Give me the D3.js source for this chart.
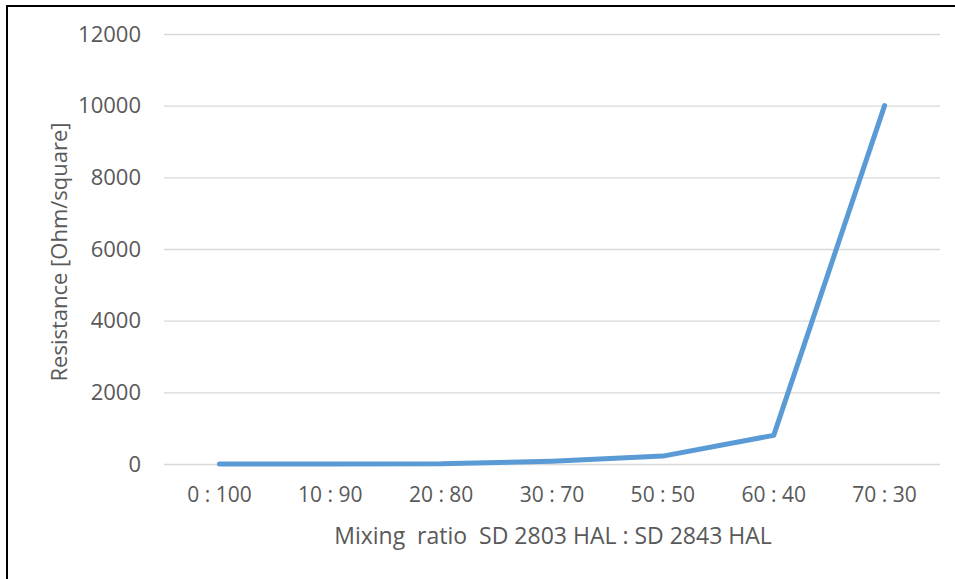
<!DOCTYPE html>
<html><head><meta charset="utf-8">
<script src="https://cdn.jsdelivr.net/npm/d3@7"></script>
<style>body{margin:0;background:#fff;}svg{display:block;}text{font-family:"Open Sans",sans-serif;fill:#595959;}</style>
</head><body>
<svg id="c" width="955" height="579"></svg>
<script>
const categories = ["0 : 100","10 : 90","20 : 80","30 : 70","50 : 50","60 : 40","70 : 30"];
const resistance = [0, 0, 5, 80, 220, 800, 10000];
const yTicks = [0, 2000, 4000, 6000, 8000, 10000, 12000];
const xTitle = "Mixing  ratio  SD 2803 HAL : SD 2843 HAL";
const yTitle = "Resistance [Ohm/square]";

(function(){
const svg = d3.select("#c");
svg.append("rect").attr("x",7).attr("y",6).attr("width",1000).attr("height",700)
  .attr("fill","none").attr("stroke","#000").attr("stroke-width",2);

const pL=164, pR=940, pT=34, pB=464;
const x = d3.scaleBand().domain(categories).range([pL,pR]);
const y = d3.scaleLinear().domain([0,12000]).range([pB,pT]);

const yAxis = svg.append("g").attr("transform",`translate(${pL},0)`)
  .call(d3.axisLeft(y).tickValues(yTicks).tickSize(-(pR-pL)).tickPadding(23).tickFormat(d3.format("d")));
yAxis.select(".domain").remove();
yAxis.selectAll("line").attr("stroke","#d9d9d9").attr("stroke-width",1.3);
yAxis.selectAll("text").style("font-size","22px").style("fill","#595959").style("font-family","'Open Sans',sans-serif");

const xAxis = svg.append("g").attr("transform",`translate(0,${pB})`)
  .call(d3.axisBottom(x).tickSize(0).tickPadding(23));
xAxis.select(".domain").remove();
xAxis.selectAll("text").style("font-size","21px").style("fill","#595959").style("font-family","'Open Sans',sans-serif");

const line = d3.line().x((d,i)=>x(categories[i])+x.bandwidth()/2).y(d=>y(d));
svg.append("path").datum(resistance).attr("d",line).attr("fill","none")
  .attr("stroke","#5b9bd5").attr("stroke-width",5).attr("stroke-linejoin","round").attr("stroke-linecap","round");

svg.append("text").attr("x",553).attr("y",544).attr("text-anchor","middle")
  .style("font-size","23px").style("white-space","pre").text(xTitle);
svg.append("text").attr("transform","translate(67,252) rotate(-90)").attr("text-anchor","middle")
  .style("font-size","22px").text(yTitle);
})();
</script>
</body></html>
